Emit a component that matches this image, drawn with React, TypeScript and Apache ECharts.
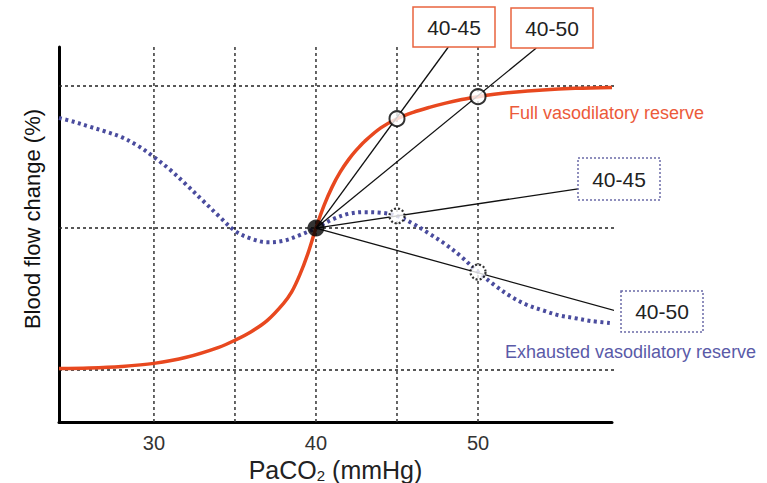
import React, { useEffect, useRef } from "react";
import * as echarts from "echarts";

// ---- data ----
const X_MIN = 24.14;
const X_MAX = 58.27;
const Y_MIN = -136.6;
const Y_MAX = 127.5;
const X_LABELS = [30, 40, 50];
const GRID_X = [30, 35, 40, 45, 50];
const GRID_Y = [100, 0, -100];

const redX = [24.14, 26, 28, 30, 32, 34, 35, 36, 37, 38, 38.5, 39, 39.5, 40, 40.5, 41, 41.5, 42, 42.5, 43, 44, 45, 46, 47, 48, 49, 50, 51, 52, 54, 56, 58.27];
const redY = [-99, -98.6, -97.5, -95.3, -91, -84, -79, -73, -65, -53, -45, -33, -18, 0, 16, 29, 39.5, 48, 55, 61, 70.5, 77, 81.5, 85, 88, 90.5, 92.5, 94.2, 95.5, 97.3, 98.4, 99];

const blueX = [24.14, 25, 26, 27, 28, 29, 30, 31, 32, 33, 34, 35, 36, 37, 38, 39, 40, 41, 42, 43, 44, 45, 46, 47, 48, 49, 50, 51, 52, 53, 54, 55, 56, 57, 58.27];
const blueY = [77.5, 75, 71.5, 68, 64, 58, 50, 41, 30.5, 19.5, 8.5, -2, -7.5, -10, -9, -5, 0, 6, 10, 11.2, 10.8, 8.5, 3, -4, -11.5, -20.5, -31, -40, -48, -54, -58, -61.5, -63.5, -65.5, -67];

const PIVOT = [40, 0];
const CIRCLE_X = [45, 50];
// annotation line end points (data units)
const RED_ENDS = [[48.17, 127.5], [53.6, 126.8]];
const BLUE_ENDS = [[56.17, 27.6], [58.83, -59.4]];

const RED_LABELS = ["40-45", "40-50"];
const BLUE_LABELS = ["40-45", "40-50"];

const FONT = "'Liberation Sans', Arial, Helvetica, sans-serif";
const RED = "#e8481f";
const BLUE = "#4a4c9e";

const valueAt = (xs: number[], ys: number[], x: number) => ys[xs.indexOf(x)];

export default function App() {
  const ref = useRef<HTMLDivElement>(null);
  useEffect(() => {
    if (!ref.current) return;
    const chart = echarts.init(ref.current, undefined, { renderer: "svg" });

    const gridSeries: any[] = [];
    GRID_X.forEach((gx) =>
      gridSeries.push({
        type: "line",
        data: [[gx, Y_MIN], [gx, Y_MAX]],
        symbol: "none",
        silent: true,
        z: 1,
        lineStyle: { color: "#333", width: 1.5, type: [3, 3] },
      })
    );
    GRID_Y.forEach((gy) =>
      gridSeries.push({
        type: "line",
        data: [[X_MIN, gy], [X_MAX + 0.37, gy]],
        symbol: "none",
        silent: true,
        clip: false,
        z: 1,
        lineStyle: { color: "#222", width: 1.5, type: [3, 3] },
      })
    );

    const redPts = redX.map((x, i) => [x, redY[i]]);
    const bluePts = blueX.map((x, i) => [x, blueY[i]]);
    const redCircles = CIRCLE_X.map((x) => [x, valueAt(redX, redY, x)]);
    const blueCircles = CIRCLE_X.map((x) => [x, valueAt(blueX, blueY, x)]);

    const annot = [...RED_ENDS, ...BLUE_ENDS].map((e) => ({
      type: "line",
      data: [PIVOT, e],
      symbol: "none",
      clip: false,
      silent: true,
      z: 4,
      lineStyle: { color: "#111", width: 1.3 },
    }));

    const boxText = (text: string, x: number, y: number) => ({
      type: "text",
      x,
      y,
      z: 20,
      style: {
        text,
        font: `21px ${FONT}`,
        fill: "#222",
        align: "center",
        verticalAlign: "middle",
      },
    });

    chart.setOption({
      animation: false,
      backgroundColor: "#ffffff",
      grid: { left: 59, right: 155, top: 47, bottom: 61, containLabel: false, outerBoundsMode: "none" },
      xAxis: {
        type: "value",
        min: X_MIN,
        max: X_MAX,
        axisLine: { show: true, onZero: false, lineStyle: { color: "#000", width: 3 } },
        axisTick: { show: false },
        splitLine: { show: false },
        axisLabel: { customValues: X_LABELS, fontSize: 20, color: "#333", margin: 11, fontFamily: FONT },
        name: "{n|PaCO}{s|2}{n| (mmHg)}",
        nameLocation: "middle",
        nameGap: 29,
        nameTextStyle: {
          rich: {
            n: { fontSize: 25, lineHeight: 26, fontFamily: FONT, color: "#222" },
            s: { fontSize: 15, lineHeight: 12, verticalAlign: "bottom", fontFamily: FONT, color: "#222" },
          },
        },
      },
      yAxis: {
        type: "value",
        min: Y_MIN,
        max: Y_MAX,
        axisLine: { show: true, onZero: false, lineStyle: { color: "#000", width: 3 } },
        axisTick: { show: false },
        axisLabel: { show: false },
        splitLine: { show: false },
      },
      series: [
        ...gridSeries,
        {
          name: "Exhausted vasodilatory reserve",
          type: "line",
          data: bluePts,
          smooth: 0.35,
          symbol: "none",
          z: 2,
          lineStyle: { color: BLUE, width: 4, type: [3, 3.5] },
        },
        {
          name: "Full vasodilatory reserve",
          type: "line",
          data: redPts,
          smooth: 0.35,
          symbol: "none",
          z: 3,
          lineStyle: { color: RED, width: 3.5 },
        },
        ...annot,
        {
          type: "scatter",
          data: redCircles,
          symbolSize: 15,
          z: 6,
          itemStyle: { color: "#fff", borderColor: "#000", borderWidth: 2 },
        },
        {
          type: "scatter",
          data: blueCircles,
          symbolSize: 15,
          z: 6,
          itemStyle: { color: "#fff", borderColor: "#000", borderWidth: 2.2, borderType: [2, 2] },
        },
        {
          type: "scatter",
          data: [PIVOT],
          symbolSize: 17,
          z: 7,
          itemStyle: { color: "#000" },
        },
      ],
      graphic: [
        { type: "rect", shape: { x: 413, y: 7, width: 82, height: 40 }, z: 19, style: { fill: "#fff", stroke: "#e9643f", lineWidth: 1.5 } },
        boxText(RED_LABELS[0], 454, 27),
        { type: "rect", shape: { x: 511, y: 8, width: 82, height: 40 }, z: 19, style: { fill: "#fff", stroke: "#e9643f", lineWidth: 1.5 } },
        boxText(RED_LABELS[1], 552, 28),
        { type: "rect", shape: { x: 578, y: 158, width: 82, height: 42 }, z: 19, style: { fill: "#fff", stroke: "#6b6ba8", lineWidth: 1.5, lineDash: [2, 2] } },
        boxText(BLUE_LABELS[0], 619, 179),
        { type: "rect", shape: { x: 621, y: 291, width: 82, height: 41 }, z: 19, style: { fill: "#fff", stroke: "#6b6ba8", lineWidth: 1.5, lineDash: [2, 2] } },
        boxText(BLUE_LABELS[1], 662, 311),
        {
          type: "text",
          x: 509,
          y: 113,
          z: 20,
          style: { text: "Full vasodilatory reserve", font: `18px ${FONT}`, fill: "#ec5a3a", verticalAlign: "middle" },
        },
        {
          type: "text",
          x: 505,
          y: 352,
          z: 20,
          style: { text: "Exhausted vasodilatory reserve", font: `18px ${FONT}`, fill: "#5a5aa8", verticalAlign: "middle" },
        },
        {
          type: "text",
          x: 32,
          y: 219,
          rotation: Math.PI / 2,
          z: 20,
          style: { text: "Blood flow change (%)", font: `22px ${FONT}`, fill: "#111", align: "center", verticalAlign: "middle" },
        },
      ],
    });
    return () => chart.dispose();
  }, []);
  return <div ref={ref} style={{ position: "fixed", left: 0, top: 0, width: 767, height: 483 }} />;
}
